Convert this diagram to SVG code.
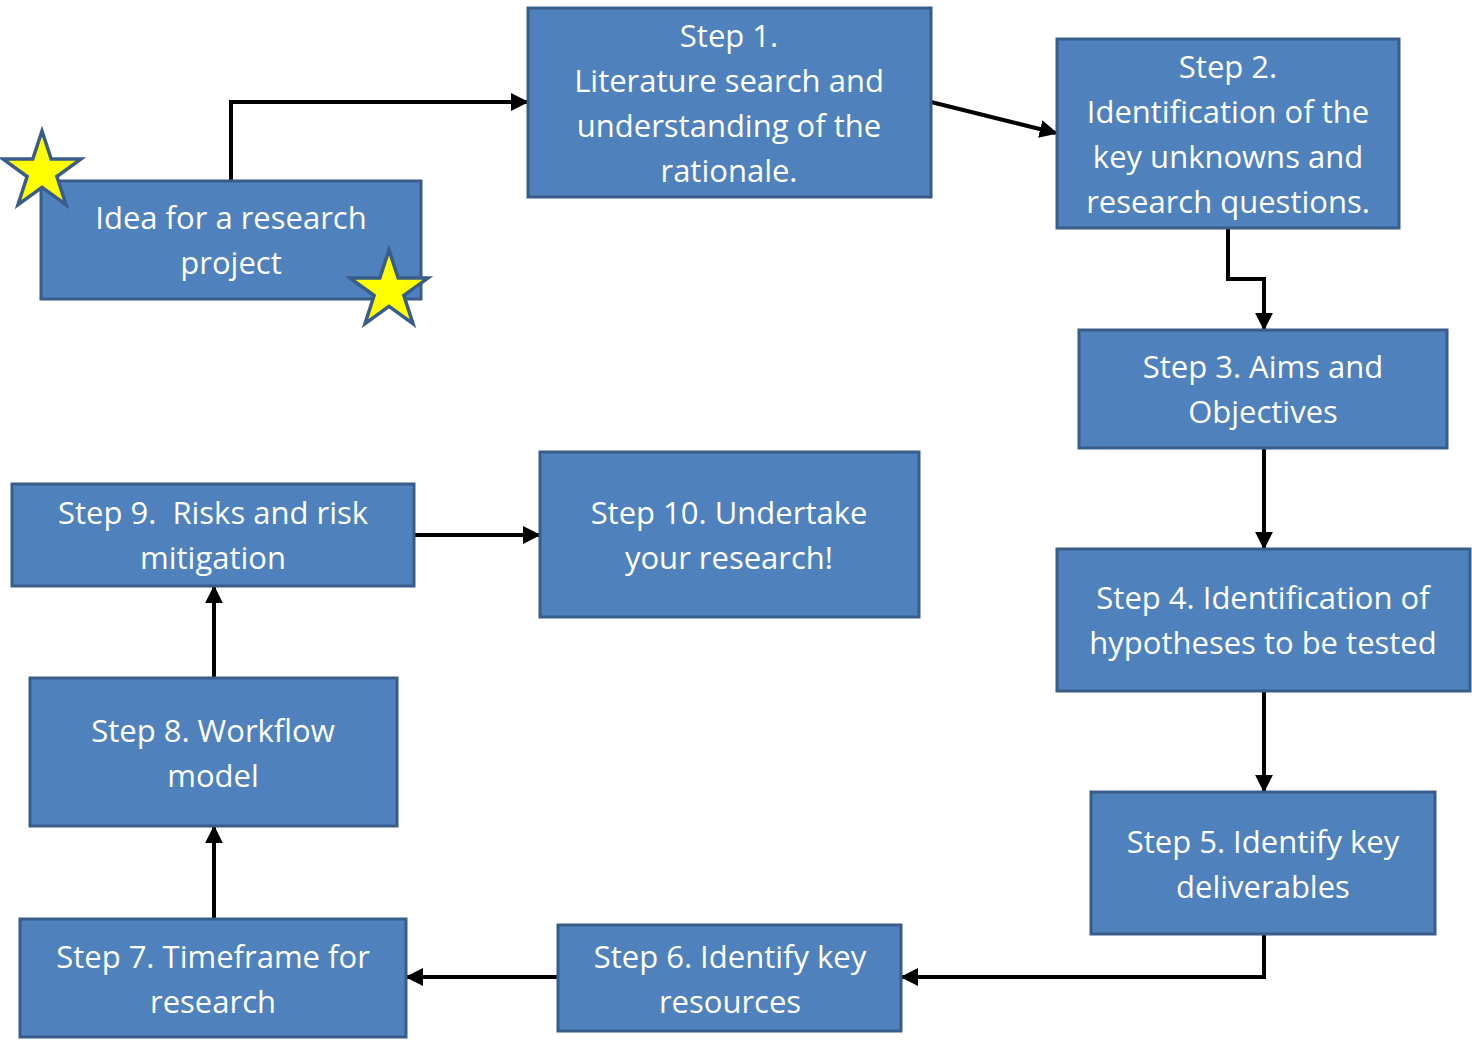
<svg xmlns="http://www.w3.org/2000/svg" width="1472" height="1046" viewBox="0 0 1472 1046">
<style>
.box{fill:#4F81BD;stroke:#385D8A;stroke-width:3}
.t{font-family:"Open Sans","Liberation Sans",sans-serif;font-size:31px;fill:#FFFFFF;text-anchor:middle;white-space:pre}
.c{fill:none;stroke:#000000;stroke-width:4;marker-end:url(#ah)}
.star{fill:#FFFF00;stroke:#385D8A;stroke-width:3.5;stroke-linejoin:miter}
</style>
<defs>
<marker id="ah" viewBox="0 0 10 10" refX="9" refY="5" markerWidth="4.5" markerHeight="4.5" orient="auto" markerUnits="strokeWidth">
<path d="M0,0 L10,5 L0,10 z" fill="#000000"/>
</marker>
</defs>
<rect width="1472" height="1046" fill="#FFFFFF"/>
<g id="connectors">
<path class="c" d="M231,181 V102 H527"/>
<path class="c" d="M931,102 L1056,133"/>
<path class="c" d="M1228,228 V279 H1264 V329"/>
<path class="c" d="M1264,448 V548"/>
<path class="c" d="M1264,691 V791"/>
<path class="c" d="M1264,934 V977 H902"/>
<path class="c" d="M558,977 H407"/>
<path class="c" d="M214,919 V827"/>
<path class="c" d="M214,678 V587"/>
<path class="c" d="M414,535 H539"/>
</g>
<g id="idea">
<rect class="box" x="41" y="181" width="380" height="118"/>
<text class="t" x="231" y="229">Idea for a research</text>
<text class="t" x="231" y="274">project</text>
</g>
<g id="star1"><polygon class="star" points="42,131 51.2,159.1 80.9,159.1 56.9,176.5 66.0,204.6 42,187.3 18.0,204.6 27.1,176.5 3.1,159.1 32.8,159.1"/></g>
<g id="star2"><polygon class="star" points="389,250 398.2,278.1 427.9,278.1 403.9,295.5 413.0,323.6 389,306.3 365.0,323.6 374.1,295.5 350.1,278.1 379.8,278.1"/></g>
<g id="step1">
<rect class="box" x="528" y="8" width="403" height="189"/>
<text class="t" x="729" y="47">Step 1.</text>
<text class="t" x="729" y="92">Literature search and</text>
<text class="t" x="729" y="137">understanding of the</text>
<text class="t" x="729" y="182">rationale.</text>
</g>
<g id="step2">
<rect class="box" x="1057" y="39" width="342" height="189"/>
<text class="t" x="1228" y="78">Step 2.</text>
<text class="t" x="1228" y="123">Identification of the</text>
<text class="t" x="1228" y="168">key unknowns and</text>
<text class="t" x="1228" y="213">research questions.</text>
</g>
<g id="step3">
<rect class="box" x="1079" y="330" width="368" height="118"/>
<text class="t" x="1263" y="378">Step 3. Aims and</text>
<text class="t" x="1263" y="423">Objectives</text>
</g>
<g id="step4">
<rect class="box" x="1057" y="549" width="413" height="142"/>
<text class="t" x="1263" y="609">Step 4. Identification of</text>
<text class="t" x="1263" y="654">hypotheses to be tested</text>
</g>
<g id="step5">
<rect class="box" x="1091" y="792" width="344" height="142"/>
<text class="t" x="1263" y="853">Step 5. Identify key</text>
<text class="t" x="1263" y="898">deliverables</text>
</g>
<g id="step6">
<rect class="box" x="558" y="925" width="343" height="106"/>
<text class="t" x="730" y="968">Step 6. Identify key</text>
<text class="t" x="730" y="1013">resources</text>
</g>
<g id="step7">
<rect class="box" x="20" y="919" width="386" height="118"/>
<text class="t" x="213" y="968">Step 7. Timeframe for</text>
<text class="t" x="213" y="1013">research</text>
</g>
<g id="step8">
<rect class="box" x="30" y="678" width="367" height="148"/>
<text class="t" x="213" y="742">Step 8. Workflow</text>
<text class="t" x="213" y="787">model</text>
</g>
<g id="step9">
<rect class="box" x="12" y="484" width="402" height="102"/>
<text class="t" x="213" y="524">Step 9.  Risks and risk</text>
<text class="t" x="213" y="569">mitigation</text>
</g>
<g id="step10">
<rect class="box" x="540" y="452" width="379" height="165"/>
<text class="t" x="729" y="524">Step 10. Undertake</text>
<text class="t" x="729" y="569">your research!</text>
</g>
</svg>
